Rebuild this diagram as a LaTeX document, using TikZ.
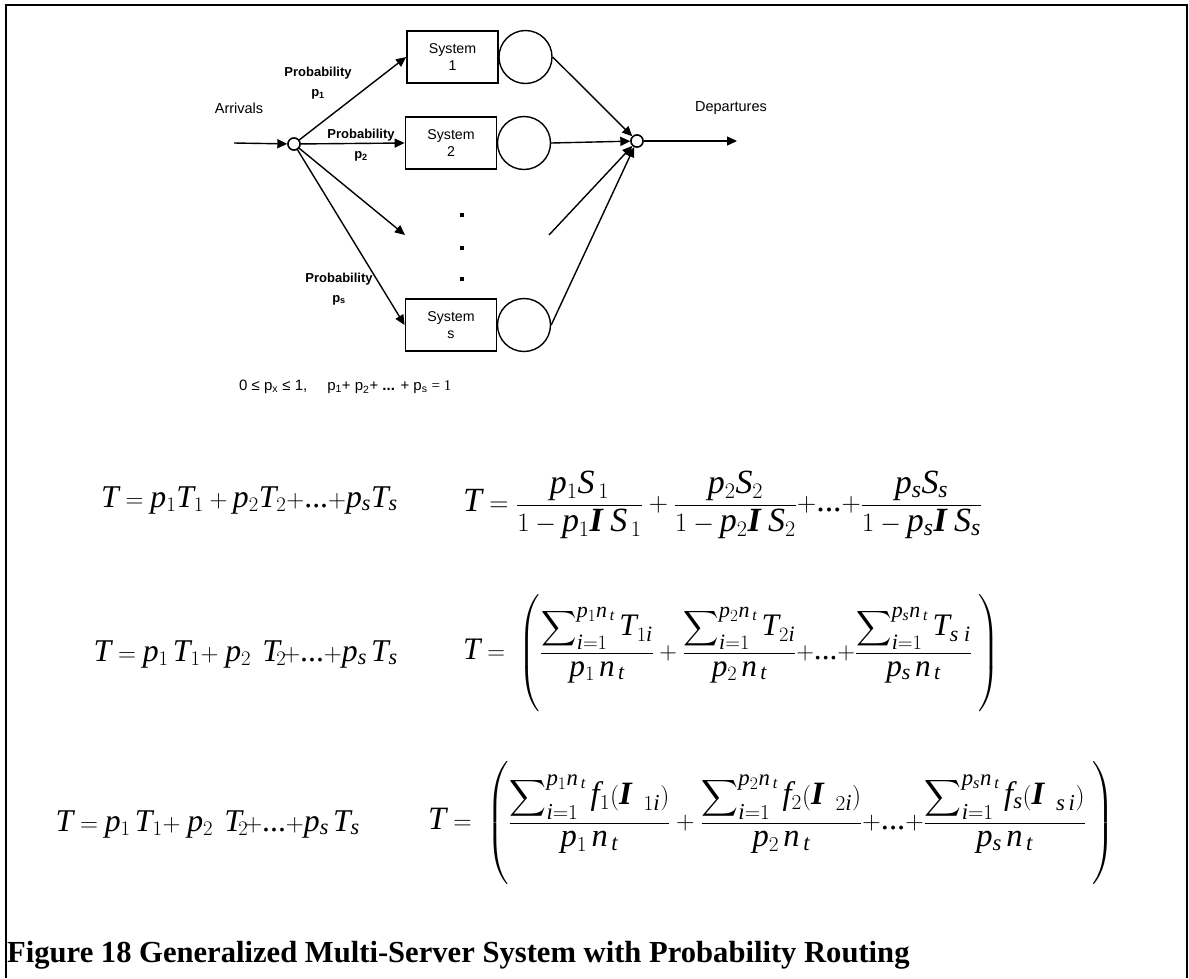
\documentclass[tikz,border=0pt]{standalone}
\usepackage{amsmath}
\usepackage{graphicx}
\usepackage{fontspec}
\setmainfont{Liberation Serif}[NFSSFamily=tms]
\setsansfont{Liberation Sans}
% math letters and digits in the Times-like text face
\SetSymbolFont{letters}{normal}{TU}{tms}{m}{it}
\SetSymbolFont{operators}{normal}{TU}{tms}{m}{n}
\newcommand{\lam}{\text{\bfseries\itshape I}}
\newcommand{\dts}{\text{...}}
% tall strut that sets the size of the big parentheses
\newcommand{\parstrut}{\vphantom{\rule[-1.5em]{0pt}{2.0em}}}
\usetikzlibrary{arrows.meta}

\begin{document}
\begin{tikzpicture}[x=1pt,y=-1pt,
  arr/.style={line width=1.4pt,-{Triangle[length=10pt,width=9pt]}},
  sysbox/.style={draw,line width=1.8pt,minimum width=91pt,minimum height=52pt,inner sep=0pt,
    align=center,font=\sffamily\fontsize{14.2}{17}\selectfont},
  server/.style={circle,draw,line width=1.4pt,minimum size=53pt,inner sep=0pt},
  junction/.style={circle,draw,line width=1.4pt,fill=white,minimum size=12pt,inner sep=0pt},
  prob/.style={align=center,font=\sffamily\bfseries\fontsize{13}{19.5}\selectfont},
  lbl/.style={font=\sffamily\fontsize{14.5}{17}\selectfont},
  dotsq/.style={rectangle,fill=black,minimum size=4.5pt,inner sep=0pt},
  eqn/.style={inner sep=0pt,font=\fontsize{31.7}{38}\selectfont},
]
\useasboundingbox (0,0) rectangle (1189,978);

% outer frame (open at the bottom)
\draw[line width=2pt] (5.7,978) -- (5.7,5.3) -- (1187.3,5.3) -- (1187.3,978);

% ---------- queueing network ----------
\node[sysbox] (sys1) at (452.5,57)  {System\\1};
\node[sysbox] (sys2) at (451,143)   {System\\2};
\node[sysbox] (syss) at (451,325)   {System\\s};
\node[server] (c1) at (525.5,57)  {};
\node[server] (c2) at (524,143)   {};
\node[server] (cs) at (524,325)   {};

\node[junction] (split) at (294,144) {};
\node[junction] (join)  at (637,141) {};

\coordinate (arrin)  at (234,143);
\coordinate (depout) at (737,141);
\coordinate (mid3)   at (405,235);
\coordinate (mid4)   at (549,235);

\node[lbl] (arrivals)   at (239,108) {Arrivals};
\node[lbl] (departures) at (731,108) {Departures};

\node[dotsq] (d1) at (462,215) {};
\node[dotsq] (d2) at (462,248) {};
\node[dotsq] (d3) at (462,279) {};

% routing arrows
\draw[arr] (arrin) -- (split);
\draw[arr] (split) -- (sys1.west);
\draw[arr] (split) -- (sys2.west);
\draw[arr] (split) -- (mid3);
\draw[arr] (split) -- (syss.west);

% departures
\draw[arr] (c1.east) -- (join);
\draw[arr] (c2.east) -- (join);
\draw[arr] (mid4) -- (join);
\draw[arr] (cs.east) -- (join);
\draw[arr] (join) -- (depout);
\node[junction] at (join) {};
\node[junction] at (split) {};

\node[prob] (pr1) at (318,83)  {Probability\\p\textsubscript{1}};
\node[prob] (pr2) at (361,145) {Probability\\p\textsubscript{2}};
\node[prob] (prs) at (339,289) {Probability\\p\textsubscript{s}};

\node[anchor=west,inner sep=0pt,font=\sffamily\fontsize{15}{18}\selectfont] (constraint) at (239,387)
  {0 ≤ p\textsubscript{x} ≤ 1,\hspace{20pt}p\textsubscript{1}+ p\textsubscript{2}+ \textbf{...} + p\textsubscript{s} {\rmfamily = 1}};

% ---------- formulas ----------
\node[eqn,anchor=east] (f1l) at (398,500)
  {$T = p_1T_1 + p_2T_2{+}\dts{+}p_sT_s$};
\node[eqn,anchor=west] (f1r) at (463,505)
  {\resizebox{519pt}{!}{$T = \dfrac{p_1S_{\,1}}{1-p_1\lam\;S_{\,1}} + \dfrac{p_2S_2}{1-p_2\lam\;S_2}{+}\dts{+}\dfrac{p_sS_s}{1-p_s\lam\;S_s}$}};

\node[eqn,anchor=east] (f2l) at (398,654)
  {$T = p_1\,T_1{+}\; p_2\;\,T_{\!2}\!{+}\dts{+}p_s\,T_s$};
\node[eqn,anchor=west] (f2r) at (463,653)
  {\resizebox{537pt}{!}{\delimiterfactor=1000\delimitershortfall=0pt$T =\;\left(\parstrut
    \dfrac{\displaystyle\sum\nolimits_{i=1}^{p_1n_{\,t}} T_{1i}}{p_1\,n_{\,t}}
    + \dfrac{\displaystyle\sum\nolimits_{i=1}^{p_2n_{\,t}} T_{2i}}{p_2\,n_{\,t}}
    {+}\dts{+} \dfrac{\displaystyle\sum\nolimits_{i=1}^{p_sn_{\,t}} T_{s\;i}}{p_s\,n_{\,t}}\;
    \right)$}};

\node[eqn,anchor=east] (f3l) at (360,824)
  {$T = p_1\,T_1{+}\; p_2\;\,T_{\!2}\!{+}\dts{+}p_s\,T_s$};
\node[eqn,anchor=west] (f3r) at (428,823)
  {\resizebox{687pt}{!}{\delimiterfactor=1000\delimitershortfall=0pt$T =\;\left(\parstrut
    \dfrac{\displaystyle\sum\nolimits_{i=1}^{p_1n_{\,t}} f_1(\lam_{\;\;1i})}{p_1\,n_{\,t}}
    + \dfrac{\displaystyle\sum\nolimits_{i=1}^{p_2n_{\,t}} f_2(\lam_{\;\;2i})}{p_2\,n_{\,t}}
    {+}\dts{+} \dfrac{\displaystyle\sum\nolimits_{i=1}^{p_sn_{\,t}} f_s(\lam_{\;\;s\,i})}{p_s\,n_{\,t}}\;
    \right)$}};

% ---------- caption ----------
\node[anchor=base west,inner sep=0pt,font=\bfseries\fontsize{30.6}{36}\selectfont] (caption) at (7,962)
  {Figure 18 Generalized Multi-Server System with Probability Routing};
\end{tikzpicture}
\end{document}
